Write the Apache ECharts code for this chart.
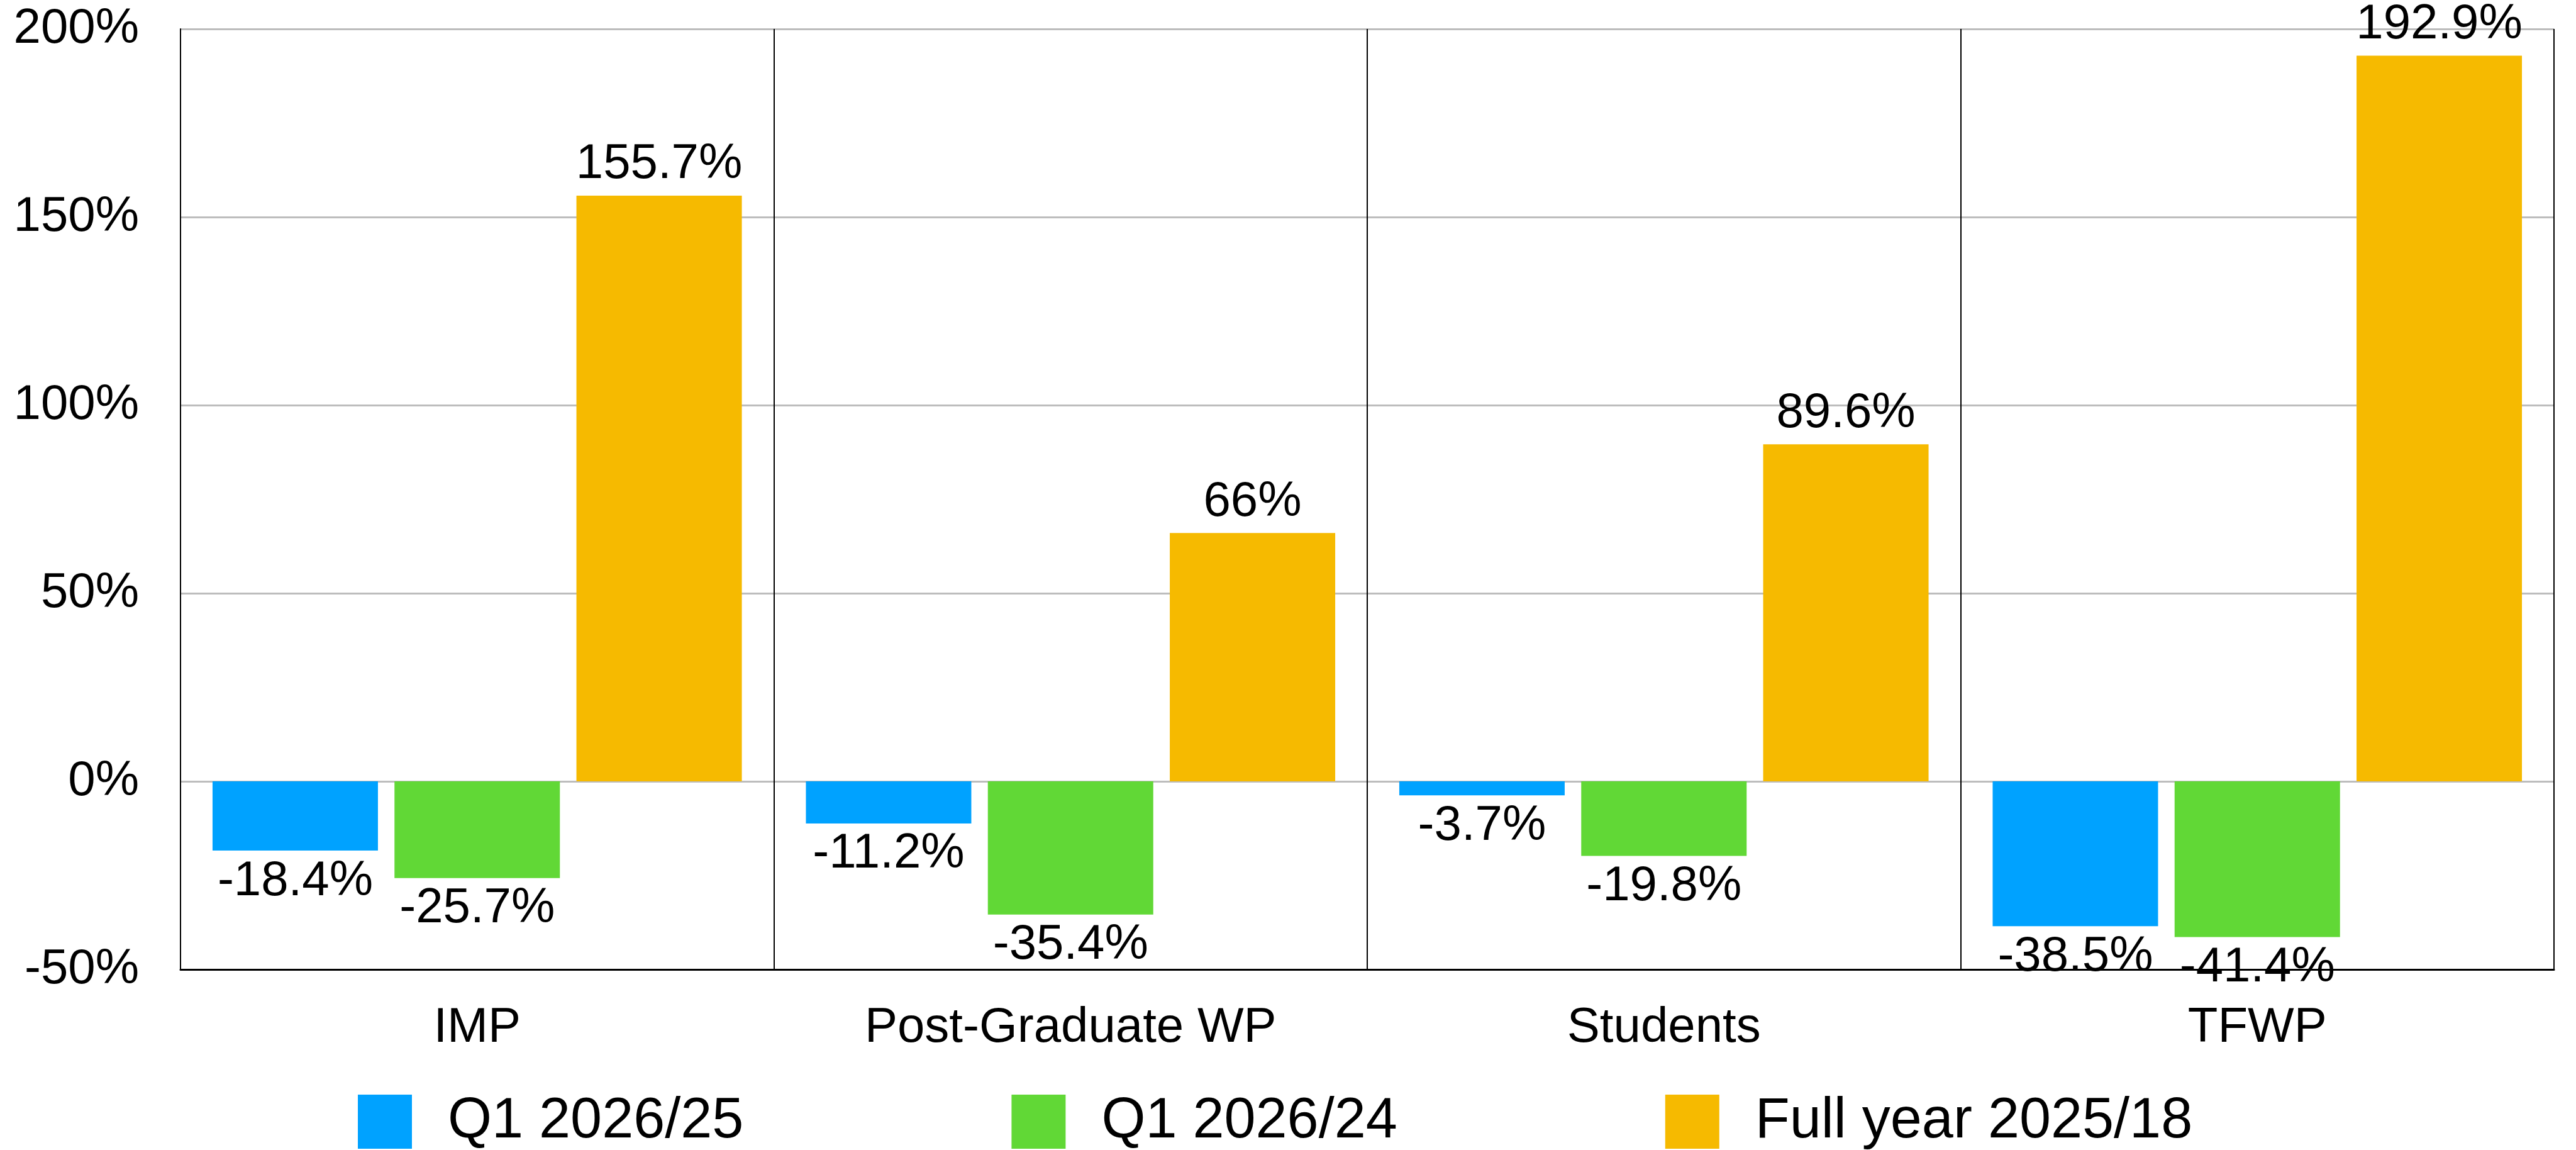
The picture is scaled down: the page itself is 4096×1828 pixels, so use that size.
<!DOCTYPE html>
<html>
<head>
<meta charset="utf-8">
<script src="https://cdn.jsdelivr.net/npm/echarts@6/dist/echarts.min.js"></script>
<style>
  html, body { margin: 0; padding: 0; background: #fff; }
  #chart { width: 4096px; height: 1828px; }
</style>
</head>
<body>
<div id="chart"></div>
<script>
// categories and series
var categories = ['IMP', 'Post-Graduate WP', 'Students', 'TFWP'];
var seriesNames = ['Q1 2026/25', 'Q1 2026/24', 'Full year 2025/18'];
var q1vs25 = [-18.4, -11.2, -3.7, -38.5];
var q1vs24 = [-25.7, -35.4, -19.8, -41.4];
var fullYear = [155.7, 66, 89.6, 192.9];
var colors = ['#00A2FF', '#61D836', '#F6BA00'];

var font = "'Liberation Sans', Arial, Helvetica, sans-serif";

var chart = echarts.init(document.getElementById('chart'));

function makeSeries(name, data, color) {
    return {
        name: name,
        type: 'bar',
        data: data,
        barGap: '10%',
        barCategoryGap: '10.8%',
        itemStyle: { color: color },
        label: {
            show: true,
            position: 'outside',
            distance: 10,
            color: '#000',
            fontFamily: font,
            fontSize: 78,
            formatter: function (p) { return p.value + '%'; }
        }
    };
}

var option = {
    animation: false,
    backgroundColor: '#fff',
    textStyle: { fontFamily: font },
    legend: {
        data: seriesNames,
        top: 1733,
        left: 564,
        itemWidth: 86,
        itemHeight: 86,
        itemGap: 426,
        icon: 'rect',
        textStyle: {
            fontFamily: font,
            fontSize: 90,
            color: '#000',
            padding: [0, 0, 0, 52]
        }
    },
    grid: {
        left: 287,
        right: 35,
        top: 46,
        bottom: 287,
        containLabel: false
    },
    xAxis: {
        type: 'category',
        data: categories,
        axisLine: { show: true, onZero: false, lineStyle: { color: '#000', width: 3 } },
        axisTick: { show: false },
        axisLabel: { fontFamily: font, fontSize: 78, color: '#000', margin: 54 },
        splitLine: { show: true, lineStyle: { color: '#000', width: 2 } }
    },
    yAxis: {
        type: 'value',
        min: -50,
        max: 200,
        interval: 50,
        axisLine: { show: true, lineStyle: { color: '#000', width: 2 } },
        axisTick: { show: false },
        axisLabel: {
            fontFamily: font, fontSize: 78, color: '#000', margin: 66,
            formatter: '{value}%'
        },
        splitLine: { show: true, lineStyle: { color: '#BDBDBD', width: 3 } }
    },
    series: [
        makeSeries(seriesNames[0], q1vs25, colors[0]),
        makeSeries(seriesNames[1], q1vs24, colors[1]),
        makeSeries(seriesNames[2], fullYear, colors[2])
    ]
};

chart.setOption(option);
</script>
</body>
</html>
